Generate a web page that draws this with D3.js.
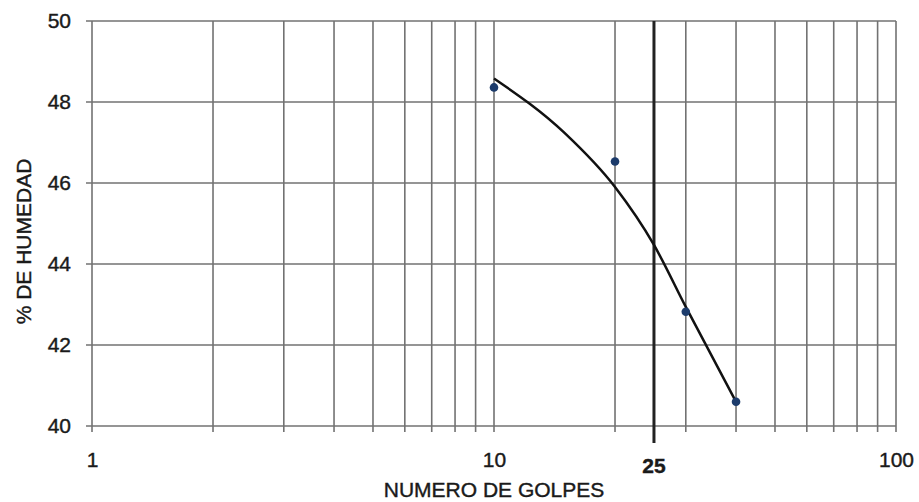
<!DOCTYPE html>
<html>
<head>
<meta charset="utf-8">
<script src="https://cdn.jsdelivr.net/npm/d3@7/dist/d3.min.js"></script>
<style>
  html, body { margin: 0; padding: 0; background: #fff; }
  svg { display: block; }
  text { font-family: "Liberation Sans", Arial, sans-serif; fill: #1a1a1a; stroke: #1a1a1a; stroke-width: 0.4px; }
</style>
</head>
<body>
<svg id="chart" width="919" height="502"></svg>
<script>
// Ensayo de límite líquido: número de golpes vs. contenido de humedad
const golpes = [10, 20, 30, 40];
const humedad = [48.36, 46.53, 42.82, 40.6];

// Curva de flujo trazada sobre los puntos
const curvaGolpes = [10, 15, 20, 25, 30, 40];
const curvaHumedad = [48.58, 47.23, 45.9, 44.47, 42.94, 40.6];

// Número de golpes de referencia
const golpesReferencia = 25;

const xTickLabels = [1, 10, 100];
const yTickLabels = [40, 42, 44, 46, 48, 50];
const xGrid = [2, 3, 4, 5, 6, 7, 8, 9, 20, 30, 40, 50, 60, 70, 80, 90];

const margin = { left: 92, right: 23, top: 21, bottom: 76 };
const W = 919, H = 502;
const svg = d3.select("#chart");

const x = d3.scaleLog().domain([1, 100]).range([margin.left, W - margin.right]);
const y = d3.scaleLinear().domain([40, 50]).range([H - margin.bottom, margin.top]);

const gridColor = "#727272";

// Líneas verticales de la rejilla logarítmica
svg.append("g").selectAll("line").data(xGrid).join("line")
  .attr("x1", d => x(d)).attr("x2", d => x(d))
  .attr("y1", y(50)).attr("y2", y(40) + 6)
  .attr("stroke", gridColor).attr("stroke-width", 1.6);

// Líneas horizontales
svg.append("g").selectAll("line").data(yTickLabels).join("line")
  .attr("x1", x(1) - 6).attr("x2", x(100))
  .attr("y1", d => y(d)).attr("y2", d => y(d))
  .attr("stroke", gridColor).attr("stroke-width", 1.6);

// Bordes y décadas
svg.append("g").selectAll("line").data(xTickLabels).join("line")
  .attr("x1", d => x(d)).attr("x2", d => x(d))
  .attr("y1", y(50)).attr("y2", y(40) + 6)
  .attr("stroke", gridColor).attr("stroke-width", 1.6);

// Eje Y: etiquetas
const yAxis = d3.axisLeft(y).tickValues(yTickLabels).tickSize(0).tickPadding(21);
const gy = svg.append("g").attr("transform", `translate(${margin.left},0)`).call(yAxis);
gy.select(".domain").remove();
gy.selectAll("text").attr("font-size", 21).attr("fill", "#1a1a1a")
  .style("font-family", "'Liberation Sans', Arial, sans-serif");

// Eje X: etiquetas
const xAxis = d3.axisBottom(x).tickValues(xTickLabels).tickFormat(d3.format("d")).tickSize(0).tickPadding(26);
const gx = svg.append("g").attr("transform", `translate(0,${y(40)})`).call(xAxis);
gx.select(".domain").remove();
gx.selectAll("text").attr("font-size", 21).attr("fill", "#1a1a1a")
  .style("font-family", "'Liberation Sans', Arial, sans-serif");

// Línea vertical de referencia en 25 golpes
svg.append("line")
  .attr("x1", x(golpesReferencia)).attr("x2", x(golpesReferencia))
  .attr("y1", y(50)).attr("y2", y(40) + 17)
  .attr("stroke", "#222").attr("stroke-width", 3);
svg.append("text")
  .attr("x", x(golpesReferencia)).attr("y", y(40) + 47)
  .attr("text-anchor", "middle").attr("font-size", 21).attr("font-weight", "bold")
  .text(golpesReferencia);

// Curva de flujo
const curva = curvaGolpes.map((g, i) => [g, curvaHumedad[i]]);
svg.append("path")
  .datum(curva)
  .attr("d", d3.line().x(d => x(d[0])).y(d => y(d[1])).curve(d3.curveMonotoneX))
  .attr("fill", "none").attr("stroke", "#111").attr("stroke-width", 2.5);

// Puntos del ensayo
svg.append("g").selectAll("circle").data(golpes.map((g, i) => [g, humedad[i]])).join("circle")
  .attr("cx", d => x(d[0])).attr("cy", d => y(d[1])).attr("r", 4.3)
  .attr("fill", "#1c3b6b");

// Títulos de los ejes
svg.append("text")
  .attr("x", x(10)).attr("y", 497)
  .attr("text-anchor", "middle").attr("font-size", 21)
  .text("NUMERO DE GOLPES");

svg.append("text")
  .attr("transform", `translate(31,${(y(40) + y(50)) / 2 + 18}) rotate(-90)`)
  .attr("text-anchor", "middle").attr("font-size", 21)
  .text("% DE HUMEDAD");
</script>
</body>
</html>
